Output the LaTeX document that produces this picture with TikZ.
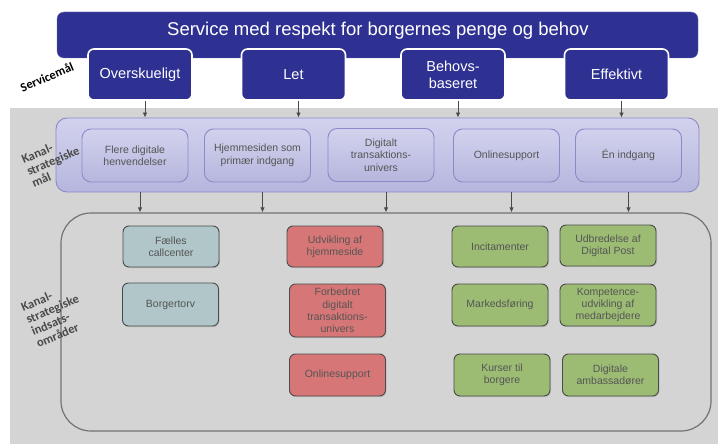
\documentclass[tikz,border=0pt]{standalone}
\usepackage{fontspec}
\setmainfont{Liberation Sans}
\newfontfamily\labfont{Carlito}
\usetikzlibrary{arrows.meta,shadows}
\definecolor{navy}{HTML}{2E3192}
\definecolor{bgray}{HTML}{D4D4D4}
\definecolor{lavtop}{HTML}{D2D2EE}
\definecolor{lavbot}{HTML}{B6B6DE}
\definecolor{lavline}{HTML}{8A8AC8}
\definecolor{teal}{HTML}{B0C6C8}
\definecolor{redb}{HTML}{D77676}
\definecolor{greenb}{HTML}{9CBC74}
\definecolor{txtg}{HTML}{555555}
\definecolor{arrg}{HTML}{4A4A4A}
\tikzset{
  goalbox/.style={draw=white, line width=1.6pt, fill=navy, rounded corners=6pt, text=white, align=center,
    minimum width=104pt, minimum height=51pt, inner sep=1pt, font=\fontsize{14.5}{17}\selectfont},
  bandbox/.style={draw=lavline, line width=0.9pt, top color=lavtop, bottom color=lavbot, rounded corners=9pt,
    text=txtg, align=center, minimum width=106pt, minimum height=53pt, inner sep=1pt, font=\fontsize{10.5}{12.5}\selectfont},
  lowbox/.style={draw=arrg, line width=0.9pt, rounded corners=6pt, text=txtg, align=center,
    minimum width=96pt, inner sep=1pt, font=\fontsize{10.5}{12.3}\selectfont,
    drop shadow={shadow xshift=1pt, shadow yshift=-1.2pt, opacity=0.25}},
  tealbox/.style={lowbox, fill=teal},
  redbox/.style={lowbox, fill=redb},
  greenbox/.style={lowbox, fill=greenb},
  arr/.style={draw=arrg, line width=0.8pt, -{Latex[length=5pt,width=4.5pt]}},
  sidelab/.style={font=\labfont\bfseries\fontsize{12.5}{13}\selectfont, align=left, rotate=23, inner sep=0pt}
}
\begin{document}
\begin{tikzpicture}[x=1pt,y=-1pt]
\useasboundingbox (0,0) rectangle (718,444);
\fill[white] (0,0) rectangle (718,444);
\fill[bgray] (10,108) rectangle (718,444);
% top banner
\node[draw=navy!70, fill=navy, rounded corners=7pt, minimum width=641pt, minimum height=46pt, inner sep=0pt] (banner) at (377.5,35) {};
\node[text=white, font=\fontsize{18.5}{21}\selectfont, inner sep=0pt] (title) at (378,31) {Service med respekt for borgernes penge og behov};
% goal boxes
\node[goalbox] (ov) at (140,74.5) {Overskueligt};
\node[goalbox] (let) at (293.5,74.5) {Let};
\node[goalbox] (beh) at (453,74.5) {Behovs-\\baseret};
\node[goalbox] (eff) at (616.5,74.5) {Effektivt};
\node[sidelab, text=black] (lsm) at (47,77) {Servicemål};
% band
\node[draw=lavline, line width=0.9pt, top color=lavtop, bottom color=lavbot, rounded corners=11pt,
  minimum width=643pt, minimum height=74pt, inner sep=0pt] (band) at (377.5,155) {};
\node[bandbox] (fl) at (135,155.5) {Flere digitale\\henvendelser};
\node[bandbox] (hj) at (257.5,155.5) {Hjemmesiden som\\primær indgang};
\node[bandbox] (dt) at (381,155) {Digitalt\\transaktions-\\univers};
\node[bandbox] (on) at (506.5,155.5) {Onlinesupport};
\node[bandbox] (en) at (628.5,155.5) {Én indgang};
\node[sidelab, text=arrg] (lkm) at (53,161) {Kanal-\\strategiske\\mål};
% arrows goal -> band
\draw[arr] ([xshift=5pt]ov.south) -- ([xshift=5pt]ov.south |- band.north);
\draw[arr] ([xshift=5pt]let.south) -- ([xshift=5pt]let.south |- band.north);
\draw[arr] ([xshift=5pt]beh.south) -- ([xshift=5pt]beh.south |- band.north);
\draw[arr] ([xshift=5pt]eff.south) -- ([xshift=5pt]eff.south |- band.north);
% container
\node[draw=gray!90!black, line width=1.2pt, rounded corners=30pt, minimum width=650pt, minimum height=218pt, inner sep=0pt] (cont) at (386,322) {};
\draw[arr] ([xshift=5pt]fl.south |- band.south) -- ([xshift=5pt]fl.south |- cont.north);
\draw[arr] ([xshift=5pt]hj.south |- band.south) -- ([xshift=5pt]hj.south |- cont.north);
\draw[arr] ([xshift=5pt]dt.south |- band.south) -- ([xshift=5pt]dt.south |- cont.north);
\draw[arr] ([xshift=5pt]on.south |- band.south) -- ([xshift=5pt]on.south |- cont.north);
\draw[arr] (en.south |- band.south) -- (en.south |- cont.north);
\node[sidelab, text=arrg] (lki) at (55,315) {Kanal-\\strategiske\\indsats-\\områder};
% lower boxes
\node[tealbox, minimum height=41pt] (fc) at (171,246.5) {Fælles\\callcenter};
\node[tealbox, minimum height=43pt] (bt) at (170.5,304.5) {Borgertorv};
\node[redbox, minimum height=41pt] (uh) at (335,246.5) {Udvikling af\\hjemmeside};
\node[redbox, minimum height=53pt] (fd) at (337.5,310.5) {Forbedret\\digitalt\\transaktions-\\univers};
\node[redbox, minimum height=42pt] (os) at (337.5,375) {Onlinesupport};
\node[greenbox, minimum height=41pt] (inc) at (500,246.5) {Incitamenter};
\node[greenbox, minimum height=41pt] (ud) at (608,245.5) {Udbredelse af\\Digital Post};
\node[greenbox, minimum height=42pt] (mf) at (500,305) {Markedsføring};
\node[greenbox, minimum height=42pt] (ko) at (608,305) {Kompetence-\\udvikling af\\medarbejdere};
\node[greenbox, minimum height=42pt] (ku) at (502,375) {Kurser til\\borgere};
\node[greenbox, minimum height=42pt] (da) at (610.5,375) {Digitale\\ambassadører};
\end{tikzpicture}
\end{document}
